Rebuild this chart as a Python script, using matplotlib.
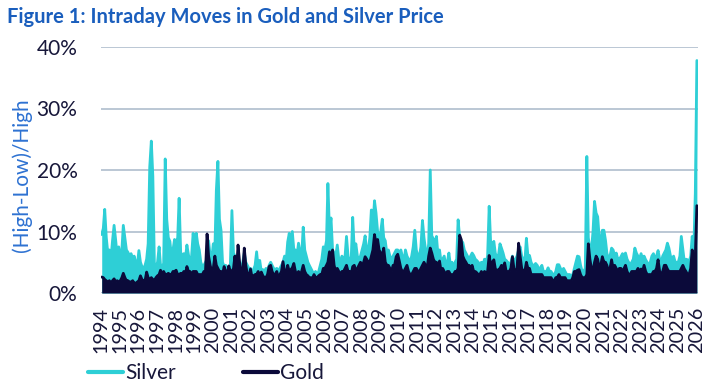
import matplotlib
matplotlib.use("Agg")
import matplotlib.pyplot as plt
import pandas as pd

# Monthly peak intraday range, (High-Low)/High in %, Jan 1994 .. Jan 2026
silver = [
    9.5, 10.5, 13.6, 9.0, 6.5, 7.0, 5.5, 8.5, 11.0, 8.7, 6.0, 7.5,      # 1994
    6.0, 7.0, 11.0, 9.0, 7.0, 6.6, 6.0, 6.4, 5.5, 6.0, 4.9, 4.5,       # 1995
    6.9, 5.0, 4.3, 4.0, 4.5, 5.5, 8.0, 20.5, 24.7, 19.0, 4.5, 4.3,     # 1996
    5.0, 7.5, 4.5, 4.3, 4.8, 21.8, 12.0, 9.0, 8.4, 6.0, 7.0, 8.7,      # 1997
    8.0, 9.0, 15.4, 6.6, 6.0, 6.4, 5.5, 7.8, 6.2, 5.0, 6.0, 9.7,       # 1998
    7.5, 9.7, 8.0, 7.0, 5.0, 4.3, 4.5, 5.0, 5.5, 8.5, 6.0, 5.5,        # 1999
    8.0, 7.0, 16.7, 21.4, 12.0, 10.2, 5.0, 4.3, 4.5, 4.0, 4.3, 4.5,    # 2000
    13.4, 6.5, 6.0, 5.0, 5.5, 4.5, 4.0, 5.0, 6.5, 5.0, 4.5, 4.0,       # 2001
    4.0, 3.5, 3.8, 4.5, 6.7, 4.0, 5.3, 3.5, 3.8, 3.5, 4.0, 3.5,        # 2002
    4.5, 5.0, 4.5, 4.0, 3.8, 4.0, 3.5, 4.0, 4.5, 5.0, 6.0, 5.0,        # 2003
    8.3, 9.7, 6.5, 10.0, 7.0, 7.0, 6.0, 8.1, 6.5, 6.0, 10.7, 7.0,      # 2004
    6.0, 5.0, 4.5, 4.0, 3.5, 3.0, 3.5, 3.0, 3.5, 4.5, 5.5, 7.5,        # 2005
    7.0, 8.5, 17.8, 10.0, 12.2, 7.0, 6.5, 6.0, 7.8, 5.5, 5.0, 6.0,     # 2006
    5.5, 6.0, 9.2, 6.0, 5.0, 5.5, 12.3, 7.0, 8.0, 6.0, 5.5, 6.0,       # 2007
    7.0, 8.0, 9.3, 6.5, 7.0, 9.0, 13.5, 11.0, 15.0, 13.0, 10.0, 9.0,   # 2008
    10.0, 12.0, 9.0, 8.5, 6.5, 7.0, 6.0, 5.5, 6.0, 6.5, 7.0, 7.0,      # 2009
    6.5, 7.0, 6.0, 5.0, 7.0, 6.0, 5.5, 5.0, 6.0, 7.5, 10.2, 7.0,       # 2010
    6.0, 6.0, 7.5, 11.8, 9.0, 7.0, 6.0, 8.0, 20.0, 9.3, 8.8, 8.0,      # 2011
    9.2, 6.0, 7.0, 5.0, 5.5, 6.0, 4.5, 5.0, 6.5, 4.5, 5.0, 4.0,        # 2012
    5.0, 5.5, 11.9, 9.0, 8.5, 8.2, 7.0, 6.5, 6.0, 5.5, 6.0, 6.5,       # 2013
    6.1, 5.5, 5.3, 5.0, 4.5, 5.0, 4.5, 5.5, 5.0, 6.0, 14.1, 8.0,       # 2014
    8.0, 8.4, 6.5, 5.7, 6.0, 8.0, 7.3, 6.5, 5.5, 5.3, 5.0, 4.5,        # 2015
    5.0, 6.0, 4.9, 5.5, 6.0, 7.0, 7.5, 6.0, 5.5, 5.0, 8.9, 6.0,        # 2016
    6.1, 5.0, 4.5, 4.5, 4.8, 4.5, 4.0, 4.0, 4.5, 3.5, 3.5, 3.5,        # 2017
    4.1, 3.5, 3.5, 3.0, 3.0, 3.5, 4.6, 4.6, 4.0, 3.5, 4.0, 3.5,        # 2018
    3.0, 3.0, 3.0, 2.8, 3.0, 4.0, 5.0, 6.0, 5.9, 4.5, 3.5, 3.5,        # 2019
    4.0, 22.2, 9.0, 7.0, 7.0, 10.0, 14.9, 13.0, 12.4, 9.0, 8.0, 10.2,  # 2020
    10.2, 8.6, 6.5, 5.5, 6.0, 7.3, 7.0, 6.0, 6.5, 5.5, 5.5, 5.9,       # 2021
    6.4, 6.0, 6.5, 5.5, 5.0, 4.5, 5.0, 5.5, 7.3, 6.5, 6.0, 5.5,        # 2022
    6.4, 5.5, 6.0, 5.4, 5.0, 4.5, 5.0, 6.0, 6.4, 5.5, 6.0, 6.9,        # 2023
    5.5, 5.0, 6.0, 6.5, 7.0, 8.1, 7.3, 6.0, 5.5, 6.0, 5.0, 5.0,        # 2024
    5.0, 6.0, 9.2, 7.0, 5.0, 5.5, 5.4, 5.0, 6.0, 9.2, 7.0, 16.2,       # 2025
    37.8,                                                              # 2026
]

gold = [
    2.6, 2.5, 2.2, 2.0, 1.8, 2.0, 1.6, 2.0, 2.3, 1.8, 2.0, 1.8,        # 1994
    2.0, 2.5, 3.2, 2.5, 2.0, 2.0, 1.8, 1.8, 2.0, 1.6, 1.6, 1.8,        # 1995
    2.0, 2.8, 2.2, 2.0, 2.0, 3.4, 2.5, 2.2, 2.5, 2.2, 2.0, 2.5,        # 1996
    2.8, 3.0, 3.7, 3.0, 3.5, 3.0, 3.0, 3.2, 3.0, 3.0, 3.5, 3.5,        # 1997
    3.7, 3.0, 3.0, 3.2, 3.0, 3.5, 3.0, 4.3, 3.5, 3.5, 3.0, 3.5,        # 1998
    3.5, 3.5, 3.0, 3.0, 3.0, 3.0, 3.5, 3.5, 9.6, 6.0, 4.5, 3.5,        # 1999
    4.0, 6.0, 4.5, 4.0, 3.5, 3.5, 3.0, 4.3, 3.5, 3.0, 4.4, 3.5,        # 2000
    3.5, 4.0, 6.0, 3.5, 7.8, 5.0, 3.0, 3.5, 7.3, 4.5, 3.0, 2.5,        # 2001
    3.9, 2.5, 2.8, 3.0, 3.0, 3.5, 2.5, 3.4, 2.8, 2.5, 2.5, 3.0,        # 2002
    4.3, 4.5, 3.5, 3.0, 3.0, 3.5, 2.5, 3.0, 3.5, 5.1, 3.5, 3.0,        # 2003
    4.5, 3.5, 3.8, 4.1, 4.8, 3.5, 3.0, 3.5, 3.0, 3.5, 4.5, 3.5,        # 2004
    3.0, 2.8, 2.5, 2.5, 2.3, 3.0, 2.5, 2.5, 2.8, 3.0, 3.0, 4.0,        # 2005
    4.0, 4.5, 5.0, 6.7, 5.5, 7.0, 4.5, 3.5, 4.0, 3.5, 3.0, 3.5,        # 2006
    3.5, 4.0, 4.5, 3.5, 3.5, 3.0, 4.3, 4.5, 3.5, 4.0, 4.5, 5.0,        # 2007
    4.5, 5.0, 5.9, 5.5, 5.0, 5.0, 6.0, 7.0, 9.5, 8.0, 8.7, 7.0,        # 2008
    6.5, 6.0, 7.3, 5.0, 4.5, 4.5, 4.0, 3.5, 4.5, 4.5, 5.9, 6.3,        # 2009
    5.2, 4.0, 3.5, 3.5, 4.0, 4.5, 3.5, 3.0, 3.0, 3.5, 4.0, 4.0,        # 2010
    3.5, 3.5, 4.0, 4.5, 5.0, 4.5, 4.0, 6.0, 7.3, 6.5, 5.5, 5.0,        # 2011
    5.0, 4.0, 5.2, 3.5, 4.0, 3.5, 3.0, 3.5, 3.5, 3.0, 3.0, 3.0,        # 2012
    3.5, 3.5, 4.0, 9.4, 8.7, 6.0, 5.4, 5.0, 4.5, 4.5, 4.0, 4.5,        # 2013
    3.5, 3.5, 3.3, 3.0, 3.0, 3.5, 3.0, 3.5, 3.3, 3.5, 6.1, 4.5,        # 2014
    5.0, 5.4, 4.0, 3.5, 3.8, 4.0, 4.5, 4.0, 4.9, 3.5, 3.5, 3.5,        # 2015
    4.0, 5.9, 4.0, 3.5, 4.0, 8.1, 6.0, 4.0, 3.5, 3.5, 5.0, 4.0,        # 2016
    4.0, 3.0, 3.0, 3.0, 3.0, 3.0, 3.0, 3.0, 3.0, 2.5, 2.5, 2.5,        # 2017
    2.5, 2.5, 2.5, 2.0, 2.0, 2.5, 2.5, 3.0, 2.5, 2.5, 2.5, 2.5,        # 2018
    2.0, 2.0, 2.0, 2.0, 2.5, 3.5, 3.5, 3.7, 3.8, 3.0, 2.5, 2.5,        # 2019
    2.5, 3.0, 8.0, 5.5, 4.0, 3.5, 5.0, 6.0, 5.5, 4.0, 4.5, 5.9,        # 2020
    5.0, 5.0, 4.5, 3.5, 4.0, 5.4, 4.0, 4.5, 4.0, 3.5, 4.0, 4.0,        # 2021
    3.5, 4.0, 4.5, 3.5, 3.0, 3.0, 3.5, 3.5, 3.5, 3.5, 4.0, 3.5,        # 2022
    3.9, 3.5, 4.5, 3.5, 3.0, 3.0, 3.0, 3.0, 3.5, 3.5, 4.0, 5.4,        # 2023
    3.5, 3.0, 3.5, 4.5, 4.5, 3.9, 3.5, 3.5, 3.5, 3.5, 3.5, 3.5,        # 2024
    3.5, 3.5, 4.0, 4.5, 3.9, 3.5, 3.0, 3.0, 4.0, 7.0, 5.0, 6.0,        # 2025
    14.2,                                                              # 2026
]

years = list(range(1994, 2027))
y_ticks = [0, 10, 20, 30, 40]
y_tick_labels = ["0%", "10%", "20%", "30%", "40%"]
title = "Figure 1: Intraday Moves in Gold and Silver Price"
y_label = "(High-Low)/High"
series_names = ["Silver", "Gold"]

SILVER_C = "#2ECFD6"
GOLD_C = "#0B0A3A"
TEXT_C = "#17173A"

plt.rcParams["font.family"] = ["Lato", "DejaVu Sans"]

dates = pd.date_range("1994-01-01", periods=len(silver), freq="MS") + pd.Timedelta(days=14)

W, H = 709, 392
fig = plt.figure(figsize=(W / 100, H / 100), dpi=100)
ax = fig.add_axes([101 / W, 1 - 293 / H, 597 / W, 246 / H])

ax.fill_between(dates, 0, silver, color=SILVER_C, lw=0, zorder=2)
l_s, = ax.plot(dates, silver, color=SILVER_C, lw=2.0, zorder=2,
               solid_joinstyle="round", solid_capstyle="round", label=series_names[0])
ax.fill_between(dates, 0, gold, color=GOLD_C, lw=0, zorder=3)
l_g, = ax.plot(dates, gold, color=GOLD_C, lw=2.0, zorder=3,
               solid_joinstyle="round", solid_capstyle="round", label=series_names[1])

ax.set_ylim(0, 40)
ax.set_yticks(y_ticks)
ax.set_yticklabels(y_tick_labels)
ax.set_xlim(pd.Timestamp("1994-01-01"), pd.Timestamp("2026-02-06"))
ax.set_xticks([pd.Timestamp(f"{y}-01-01") for y in years])
ax.set_xticklabels([str(y) for y in years], rotation=90)

ax.grid(axis="y", color="#B5C3D1", lw=1.3, zorder=1)
ax.set_axisbelow(True)
for s in ax.spines.values():
    s.set_visible(False)
ax.tick_params(axis="y", length=0, pad=17, labelsize=15, labelcolor=TEXT_C)
ax.tick_params(axis="x", length=0, pad=10, labelsize=14.3, labelcolor=TEXT_C)

fig.text(7 / W, 1 - 17 / H, title, ha="left", va="center", fontsize=14.5,
         fontweight="bold", color="#1A5EBD")
fig.text(22 / W, 1 - 175 / H, y_label, ha="center", va="center", rotation=90,
         fontsize=15, color="#2E72D2")

fig.legend(handles=[l_s, l_g], labels=series_names, loc="center left",
           bbox_to_anchor=(88 / W, 1 - 373 / H), ncol=2, frameon=False,
           fontsize=15, handlelength=1.7, handletextpad=0.1, columnspacing=3.2,
           borderpad=0, borderaxespad=0, labelcolor=TEXT_C)
for lh in fig.legends[0].legend_handles:
    lh.set_linewidth(3)

fig.savefig("out.png", dpi=100)
